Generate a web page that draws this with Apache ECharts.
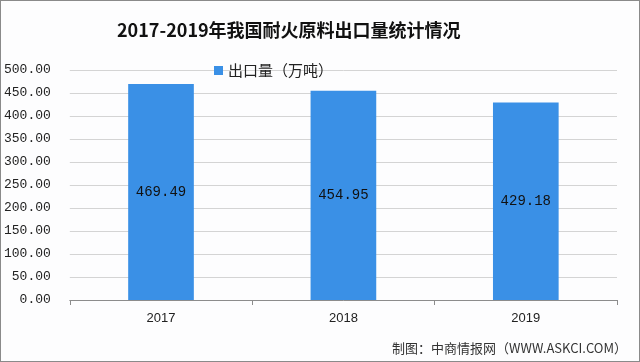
<!DOCTYPE html>
<html><head><meta charset="utf-8">
<script src="https://cdn.jsdelivr.net/npm/echarts@6/dist/echarts.min.js"></script>
<style>html,body{margin:0;padding:0;background:#fff}#c{width:638px;height:360px;border:1px solid #8a8a8a;}</style>
</head><body><div id="c"></div>
<script>
const title = '2017-2019年我国耐火原料出口量统计情况';
const seriesName = '出口量（万吨）';
const categories = ['2017', '2018', '2019'];
const values = [469.49, 454.95, 429.18];
const footer = '制图：中商情报网（WWW.ASKCI.COM）';

const chart = echarts.init(document.getElementById('c'), null, {renderer: 'canvas'});
chart.setOption({
  backgroundColor: '#fdfdfe',
  animation: false,
  title: {
    text: title, left: 111, top: 15,
    textStyle: {fontFamily: 'Noto Sans CJK SC', fontWeight: 'bold', fontSize: 18, color: '#111'}
  },
  legend: {
    data: [seriesName], left: 208, top: 57, itemWidth: 9, itemHeight: 9, itemGap: 4,
    icon: 'rect',
    textStyle: {fontFamily: 'Noto Sans CJK SC', fontSize: 15, color: '#222'}
  },
  graphic: [{
    type: 'text', right: 12, bottom: 6,
    style: {text: footer, fontFamily: 'Noto Sans CJK SC', fontSize: 13, fill: '#333'}
  }],
  grid: {left: 65, right: 22, top: 69, bottom: 61, containLabel: false},
  xAxis: {
    type: 'category', data: categories,
    axisLine: {lineStyle: {color: '#8c8c8c'}},
    axisTick: {show: true, length: 5, lineStyle: {color: '#8c8c8c'}},
    axisLabel: {fontFamily: 'Liberation Sans', fontSize: 13, color: '#222', margin: 12}
  },
  yAxis: {
    type: 'value', min: 0, max: 500, interval: 50,
    axisLine: {show: false}, axisTick: {show: false},
    splitLine: {lineStyle: {color: '#d4d4d4'}},
    axisLabel: {fontFamily: 'Liberation Mono', fontSize: 13, color: '#222', margin: 19,
      formatter: v => v.toFixed(2)}
  },
  series: [{
    name: seriesName, type: 'bar', data: values, barWidth: '36%',
    itemStyle: {color: '#3a90e6'},
    label: {show: true, position: 'inside', fontFamily: 'Liberation Mono', fontSize: 14, color: '#111',
      formatter: p => p.value.toFixed(2)}
  }]
});
</script></body></html>
